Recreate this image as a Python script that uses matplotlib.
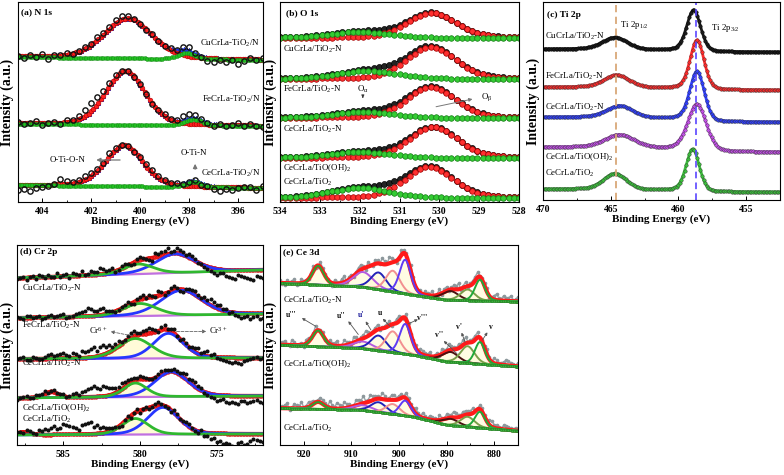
import numpy as np
import matplotlib.pyplot as plt
from matplotlib.ticker import MultipleLocator

plt.rcParams['font.family'] = ['Liberation Serif', 'DejaVu Serif']
plt.rcParams['font.weight'] = 'bold'
plt.rcParams['axes.labelweight'] = 'bold'
plt.rcParams['mathtext.default'] = 'regular'
plt.rcParams['axes.linewidth'] = 0.8

# ---------------- (a) N 1s ----------------
n1s_names = ['CuCrLa-TiO$_2$/N', 'FeCrLa-TiO$_2$/N', 'CeCrLa-TiO$_2$/N']
n1s_bg_405 = [145, 78, 17]
n1s_bg_395 = [142, 76, 14]
n1s_main_pos = [400.5, 400.6, 400.65]
n1s_main_h = [40, 54, 41]
n1s_main_w = [2.3, 1.9, 1.8]
n1s_sub_pos = [398.1, 397.8, 397.8]
n1s_sub_h = [6, 6, 5]
n1s_resid = [
    [0, -2, 1, -1, 2, -3, 1, 0, 2, -1, 1, 2, 1, 3, 2, 2, 3, 4, 2, 1,
     0, -1, 1, 0, -1, 1, 0, 2, 3, 1, -1, -3, -4, -2, -3, -1, -5, -2, 1, -1, 2],
    [1, -1, 0, 2, -2, 0, 1, -1, 2, 1, 3, 6, 8, 7, 5, 3, 2, 1, 0, -1,
     1, 0, -1, 1, 2, 0, 1, 4, 5, 3, 1, 0, -2, 1, -1, 0, 2, -1, 1, 0, -1],
    [-5, -4, -6, -3, -2, -1, 0, 5, 3, 1, 2, 4, 3, 2, 1, 3, 2, 1, 0, -1,
     1, 2, 3, 2, 1, 0, 1, -1, 0, 1, -2, -1, -3, -4, -2, -3, -1, 0, 1, -2, 2],
]

# ---------------- (b) O 1s ----------------
o1s_names = ['CuCrLa/TiO$_2$-N', 'FeCrLa/TiO$_2$-N', 'CeCrLa/TiO$_2$-N',
             'CeCrLa/TiO(OH)$_2$', 'CeCrLa/TiO$_2$']
o1s_base = [164, 123, 84, 44, 4]
o1s_beta_pos = [530.2, 530.2, 530.2, 530.15, 530.25]
o1s_beta_h = [25, 32, 31, 31, 31]
o1s_alpha_pos = [532.0, 531.8, 531.9, 532.0, 532.0]
o1s_alpha_h = [6, 8, 6, 6, 10]

# ---------------- (c) Ti 2p ----------------
ti_names = o1s_names
ti_bg_470 = [151, 113, 83, 53, 11]
ti_bg_452 = [148, 110, 78, 48, 8]
ti_p32_pos = [458.87, 458.62, 458.62, 458.62, 458.94]
ti_p32_h = [41, 49, 49, 46, 42]
ti_p32_w = [1.2, 1.2, 1.25, 1.6, 1.15]
ti_p12_pos = [464.67, 464.54, 464.3, 464.3, 464.67]
ti_p12_h = [12, 12.5, 12, 13, 16]
ti_p12_w = [2.2, 2.2, 2.3, 2.6, 2.0]
ti_colors = ['#1c1c1c', '#ff2a2a', '#2f3fff', '#c24fe6', '#3bbf3b']

# ---------------- (d) Cr 2p ----------------
cr_names = o1s_names
cr_bg_588 = [167, 127, 86, 47, 10]
cr_bg_572 = [175, 131, 87, 49, 11]
cr3_pos = [577.7, 577.3, 578.15, 577.95, 578.5]
cr3_h = [19, 25, 25, 25, 27]
cr3_w = [3.0, 3.2, 2.3, 2.6, 2.4]
cr6_pos = [580.1, 580.0, 580.3, 580.3, 580.3]
cr6_h = [10, 12.5, 20, 14, 16]
cr6_w = [2.3, 2.6, 2.6, 1.8, 2.0]
cr_extra_pos = [585.8, 585.8, 585.8, 585.8, 587.6]
cr_extra_h = [0, 0, 0, 6, 3]
# raw points at 588, 587.6 ... 572
cr_resid = [
    [-1, 1, 0, -2, 1, 2, 0, -1, 2, 3, 1, 0, 4, 2, 5, 3, -1, 2, 1, -2,
     3, 0, -3, 2, 4, 1, 5, 3, 4, 2, 0, -3, -5, -4, -6, -8, -5, -7, -9, -6, -8],
    [1, -1, 2, 0, -2, 1, 0, 2, -1, 1, 3, 5, 7, 4, 6, 2, -1, 1, 3, -2,
     2, 0, 1, 4, -2, 3, 1, -3, 2, 4, 1, 3, 5, 4, 2, 0, -3, -4, -6, -3, -5],
    [0, 2, -1, 1, 0, 3, 2, 4, 3, 5, 2, 6, 8, 5, 9, 7, 4, 2, 3, 5,
     1, 4, 3, -1, 4, 2, 0, 3, 1, 4, 2, 5, 3, -2, -4, -6, -5, -3, -1, 1, 0],
    [-2, 1, 0, 2, 1, -1, 2, 1, 0, 3, 2, 6, 9, 8, 10, 7, 5, 6, 4, 2,
     3, 1, 0, 2, 3, 1, 2, 4, 3, 5, 2, -2, -4, -5, -7, -6, -8, -5, -6, -4, -7],
    [1, -1, 2, 0, 3, 5, 8, 6, 9, 7, 4, 10, 12, 8, 6, 3, 1, -2, 2, 0,
     -3, 1, -1, 3, 0, -2, 2, 1, 3, -1, 2, -3, -5, -8, -10, -12, -9, -11, -7, -6, -8],
]
# raw points in between, at 587.8, 587.4 ... 572.2
cr_resid_mid = [
    [0, -2, 1, 2, -1, 0, 3, 1, -2, 2, 4, 1, 3, 6, 2, 4, 0, 3, -1, 2,
     1, -2, 4, 3, 6, 2, 4, 1, 3, -1, -2, -4, -6, -3, -7, -9, -6, -8, -10, -7],
    [0, 2, -1, 1, -1, 2, 1, 3, 0, 2, 4, 8, 5, 6, 3, 1, 0, 2, -1, 1,
     3, 2, -1, 2, 0, 4, -2, 1, 3, 2, 4, 6, 3, 1, -1, -2, -5, -3, -4, -6],
    [1, -1, 2, 0, 2, 4, 3, 5, 2, 4, 7, 6, 10, 8, 6, 3, 5, 1, 4, 2,
     3, 5, 2, 3, 1, 4, -1, 2, 3, 6, 4, 2, -1, -3, -5, -4, -6, -2, 0, -1],
    [0, 2, -1, 1, 3, 0, 1, 2, 1, 4, 5, 8, 11, 7, 9, 6, 4, 5, 3, 1,
     2, 0, 1, 3, 2, 3, 1, 5, 4, 3, -1, -3, -6, -4, -8, -7, -5, -7, -5, -6],
    [0, 2, 1, 4, 6, 7, 5, 10, 8, 6, 9, 11, 7, 5, 4, 2, -1, 1, -2, 2,
     0, -2, 2, 1, -1, 3, 0, 2, 1, -2, -4, -6, -9, -11, -10, -13, -8, -10, -5, -7],
]

# ---------------- (e) Ce 3d ----------------
ce_names = ['CeCrLa/TiO$_2$-N', 'CeCrLa/TiO(OH)$_2$', 'CeCrLa/TiO$_2$']
ce_peak_labels = ["u'''", "u''", "u'", "u", "v'''", "v''", "v'", "v"]
ce_peak_pos = [917.0, 907.5, 904.3, 901.3, 898.7, 889.2, 885.6, 883.0]
ce_peak_w = [2.8, 5.0, 3.8, 3.5, 2.8, 4.0, 3.5, 2.5]
ce_peak_h = [
    [19, 15, 17, 21, 34, 9, 11, 21],
    [16, 7, 15, 21, 30, 10, 17, 22],
    [7, 5, 10, 10, 15, 6.5, 10, 16],
]
ce_peak_colors = ['#2ea02e', '#b45be0', '#2323b8', '#f29090', '#5e3cf5',
                  '#4a1010', '#7a9e4a', '#1fa83a']
ce_bg_E = [875, 890, 897, 908, 925]
ce_bg_y = [
    [143.3, 145, 150, 158.3, 161.7],
    [78.3, 83.3, 90, 96.7, 100],
    [14, 20, 28.3, 35, 36.7],
]
# raw points at 925, 924 ... 875
ce_resid = [
    [3, -2, 1, 4, -1, 2, 0, 5, -2, 3, 1, -3, 2, 4, -1, 3, 2, 5, -2, 1,
     4, 0, 3, 6, 2, -1, 3, -2, 4, 1, -3, 2, 5, 1, -2, 4, 2, 3, -1, 5,
     2, 4, 1, 3, -2, 4, 2, 5, 3, 1, 4],
    [2, 4, -1, 3, 1, -2, 4, 2, 0, 3, -1, 2, 5, 1, 3, -2, 4, 2, 6, 1,
     3, -1, 2, 4, 1, 5, -2, 3, 2, 1, 4, 2, -1, 3, 5, 2, 4, 1, 3, 6,
     2, 4, -1, 3, 2, 5, 1, 3, 4, 2, 3],
    [1, 3, -2, 4, 2, 1, 5, 3, 2, 4, 1, 3, 6, 2, 4, 1, 5, 3, 2, 6,
     3, 1, 4, 2, 5, 3, 1, 4, 2, 3, 5, 1, 3, -1, 2, 4, 3, 5, 2, 4,
     3, 1, 4, 2, 5, 3, 2, 4, 3, 1, 2],
]
# raw points at 924.5, 923.5 ... 875.5
ce_resid_mid = [
    [-1, 3, 2, -2, 4, 1, 3, -1, 5, 2, -2, 4, 1, 6, 3, -1, 4, 2, 5, -1,
     3, 6, 1, 4, -2, 5, 2, 7, -1, 3, 4, 1, -2, 5, 3, -1, 4, 6, 2, -1,
     3, 5, 2, 4, 1, 6, 2, 3, 5, 2],
    [3, 1, 5, -1, 2, 4, 1, 6, 2, -1, 4, 3, 0, 5, 2, 6, -1, 3, 4, 2,
     5, 1, 3, -2, 4, 2, 6, 1, 3, 5, 2, 4, 1, -1, 3, 6, 2, 4, 5, 1,
     3, 5, 2, 6, 1, 4, 2, 5, 3, 1],
    [2, 5, 1, 3, 6, 2, 4, 1, 5, 3, 7, 2, 4, 6, 3, 1, 5, 7, 2, 4,
     3, 6, 1, 5, 2, 4, 6, 2, 5, 1, 3, 4, 2, 5, 1, 3, 6, 2, 4, 3,
     5, 1, 4, 2, 6, 3, 1, 4, 2, 3],
]


def pv(x, c, h, w, eta=0.25):
    # pseudo-Voigt line shape used for the fitted components
    g = np.exp(-4 * np.log(2) * (x - c) ** 2 / w ** 2)
    l = 1 / (1 + 4 * (x - c) ** 2 / w ** 2)
    return h * ((1 - eta) * g + eta * l)


def shirley(x, lo, hi, comp):
    # x runs from high to low binding energy
    cum = np.cumsum(comp[::-1])[::-1]
    return lo + (hi - lo) * cum / cum[0]


def merge(e1, r1, e2, r2):
    e = np.concatenate([e1, e2])
    r = np.concatenate([r1, r2])
    order = np.argsort(-e)
    return e[order], r[order]


W, H = 784, 475
fig = plt.figure(figsize=(7.84, 4.75), dpi=100)


def add_axes(l, t, r, b):
    return fig.add_axes([l / W, 1 - b / H, (r - l) / W, (b - t) / H])


def style(ax, xlim, ylim, major, minor):
    ax.set_xlim(*xlim)
    ax.set_ylim(*ylim)
    ax.set_yticks([])
    ax.xaxis.set_major_locator(MultipleLocator(major))
    ax.xaxis.set_minor_locator(MultipleLocator(minor))
    ax.tick_params(axis='x', which='both', direction='in', labelsize=7, pad=3.5)
    ax.tick_params(which='major', length=3, width=0.7)
    ax.tick_params(which='minor', length=1.8, width=0.6)
    ax.set_xlabel('Binding Energy (eV)', fontsize=8, labelpad=0.5)
    ax.set_ylabel('Intensity (a.u.)', fontsize=10, labelpad=2.5)


lab_kw = dict(fontsize=6.4, fontweight='normal', va='center')

# ---------- panel (a)
ax = add_axes(17.5, 2, 262.5, 202)
E = np.linspace(405, 395, 101)
Er = np.linspace(405, 395, 41)
for k in range(3):
    bg = n1s_bg_395[k] + (n1s_bg_405[k] - n1s_bg_395[k]) * (E - 395) / 10
    main = pv(E, n1s_main_pos[k], n1s_main_h[k], n1s_main_w[k])
    sub = pv(E, n1s_sub_pos[k], n1s_sub_h[k], 0.8)
    ax.plot(E, bg + main + sub, color='#2b3cff', lw=1.2, marker='^', ms=3.2, mew=0.4, mec='#1020c0')
    ax.plot(E, bg + main, color='#ff2020', lw=1.2, marker='o', ms=3.4, mew=0.4, mec='#b00000')
    ax.plot(E, bg + sub, color='#22c022', lw=1, marker='o', ms=2.9, mew=0.3, mec='#118011')
    bgr = n1s_bg_395[k] + (n1s_bg_405[k] - n1s_bg_395[k]) * (Er - 395) / 10
    raw = bgr + pv(Er, n1s_main_pos[k], n1s_main_h[k], n1s_main_w[k]) \
        + pv(Er, n1s_sub_pos[k], n1s_sub_h[k], 0.8) + np.array(n1s_resid[k])
    ax.plot(Er, raw, 'o', mfc='none', mec='#111111', ms=3.8, mew=1.0)
style(ax, (405, 395), (0, 200), 2, 1)
ax.text(404.85, 190, '(a) N 1s', fontsize=6.8, va='center')
for name, y in zip(n1s_names, [159, 103, 29]):
    ax.text(395.1, y, name, ha='right', **lab_kw)
ax.text(402.95, 42, 'O-Ti-O-N', ha='center', **lab_kw)
ax.annotate('', xy=(401.9, 42), xytext=(400.7, 42),
            arrowprops=dict(arrowstyle='-|>', color='#777777', lw=0.9, mutation_scale=6))
ax.text(397.8, 49, 'O-Ti-N', ha='center', **lab_kw)
ax.annotate('', xy=(397.75, 41), xytext=(397.75, 30),
            arrowprops=dict(arrowstyle='-|>', color='#777777', lw=0.9, mutation_scale=6))

# ---------- panel (b)
ax = add_axes(280, 2, 519, 202)
E = np.linspace(534, 528, 47)
for k in range(5):
    b = o1s_base[k]
    al = pv(E, o1s_alpha_pos[k], o1s_alpha_h[k], 1.8)
    be = pv(E, o1s_beta_pos[k], o1s_beta_h[k], 1.45)
    ax.plot(E, b + al + be, color='#111111', lw=0.6, marker='o', ms=4.3, mfc='#222222', mec='#000000', mew=0.5)
    ax.plot(E, b + be, color='#ff2a2a', lw=0.6, marker='o', ms=4.0, mfc='#ff3030', mec='#a00000', mew=0.5)
    ax.plot(E, b + al, color='#33cc33', lw=0.6, marker='o', ms=4.0, mfc='#33cc33', mec='#137a13', mew=0.5)
style(ax, (534, 528), (0, 200), 1, 0.5)
ax.text(533.85, 189, '(b) O 1s', fontsize=6.8, va='center')
for name, y in zip(o1s_names, [153, 113, 73, 34, 20]):
    ax.text(533.92, y, name, ha='left', **lab_kw)
ax.text(531.92, 113, r'O$_{\alpha}$', ha='center', **lab_kw)
ax.annotate('', xy=(531.92, 104), xytext=(531.92, 108),
            arrowprops=dict(arrowstyle='-|>', color='#333333', lw=0.6, mutation_scale=4))
ax.text(528.95, 105, r'O$_{\beta}$', ha='left', **lab_kw)
ax.annotate('', xy=(529.1, 103.5), xytext=(530.15, 94.7),
            arrowprops=dict(arrowstyle='-|>', color='#777777', lw=0.7, mutation_scale=5))

# ---------- panel (c)
ax = add_axes(543, 2, 780, 200)
E = np.linspace(470, 452.5, 150)
for k in range(5):
    p32 = pv(E, ti_p32_pos[k], ti_p32_h[k], ti_p32_w[k])
    p12 = pv(E, ti_p12_pos[k], ti_p12_h[k], ti_p12_w[k])
    bg = shirley(E, ti_bg_452[k], ti_bg_470[k], p32 + p12)
    ax.plot(E, bg + p32 + p12, color=ti_colors[k], lw=2.0, marker='o', ms=2.5,
            mew=0.3, mec='#333333' if k else '#000000')
ax.axvline(464.62, color='#d9a878', lw=1.3, ls=(0, (4, 2.5)))
ax.axvline(458.69, color='#5a46ff', lw=1.2, ls=(0, (4, 2.5)))
style(ax, (470, 452.5), (0, 198), 5, 2.5)
ax.text(469.7, 185, '(c) Ti 2p', fontsize=6.8, va='center')
for name, y in zip(ti_names, [164, 124, 93, 43, 27]):
    ax.text(469.85, y, name, ha='left', **lab_kw)
ax.text(464.3, 175, 'Ti 2p$_{1/2}$', ha='left', **lab_kw)
ax.text(457.6, 172, 'Ti 2p$_{3/2}$', ha='left', **lab_kw)

# ---------- panel (d)
ax = add_axes(17.3, 245, 262.7, 445)
E = np.linspace(588, 572, 161)
Er1 = np.linspace(588, 572, 41)
Er2 = np.linspace(587.8, 572.2, 40)
for k in range(5):
    bg = cr_bg_572[k] + (cr_bg_588[k] - cr_bg_572[k]) * (E - 572) / 16
    c3 = pv(E, cr3_pos[k], cr3_h[k], cr3_w[k])
    c6 = pv(E, cr6_pos[k], cr6_h[k], cr6_w[k])
    ex = pv(E, cr_extra_pos[k], cr_extra_h[k], 1.0)
    ax.plot(E, bg, color='#c070e0', lw=1.6)
    ax.fill_between(E, bg, bg + c6, color='#fffbd8', lw=0)
    ax.plot(E, bg + c3 + c6 + ex, color='#ff2020', lw=2.6, marker='o', ms=2.6, mew=0.3, mec='#c00000')
    ax.plot(E, bg + c3, color='#2636ff', lw=2.0)
    ax.plot(E, bg + c6, color='#2fb82f', lw=2.0)
    Er, res = merge(Er1, np.array(cr_resid[k]), Er2, np.array(cr_resid_mid[k]))
    bgr = cr_bg_572[k] + (cr_bg_588[k] - cr_bg_572[k]) * (Er - 572) / 16
    raw = bgr + pv(Er, cr3_pos[k], cr3_h[k], cr3_w[k]) + pv(Er, cr6_pos[k], cr6_h[k], cr6_w[k]) \
        + pv(Er, cr_extra_pos[k], cr_extra_h[k], 1.0) + res
    ax.plot(Er, raw, 'o', color='#111111', ms=1.9)
style(ax, (588, 572), (0, 200), 5, 2.5)
ax.text(587.8, 193, '(d) Cr 2p', fontsize=6.8, va='center')
for name, y in zip(cr_names, [157, 120, 82, 37, 26]):
    ax.text(587.7, y, name, ha='left', **lab_kw)
ax.text(582.75, 114, 'Cr$^{6+}$', ha='center', **lab_kw)
ax.annotate('', xy=(582.1, 114), xytext=(580.3, 108.5),
            arrowprops=dict(arrowstyle='-|>', color='#666666', lw=0.6, ls='--', mutation_scale=5))
ax.text(574.9, 114, 'Cr$^{3+}$', ha='center', **lab_kw)
ax.annotate('', xy=(575.5, 113.5), xytext=(577.8, 113.5),
            arrowprops=dict(arrowstyle='-|>', color='#666666', lw=0.6, ls='--', mutation_scale=5))

# ---------- panel (e)
ax = add_axes(280, 245, 518, 445)
E = np.linspace(925, 875, 401)
Er1 = np.linspace(925, 875, 51)
Er2 = np.linspace(924.5, 875.5, 50)
for k in range(3):
    bg = np.interp(E, ce_bg_E, ce_bg_y[k])
    Er, res = merge(Er1, np.array(ce_resid[k]), Er2, np.array(ce_resid_mid[k]))
    envr = np.interp(Er, ce_bg_E, ce_bg_y[k])
    env = bg.copy()
    comps = []
    for j in range(8):
        c = pv(E, ce_peak_pos[j], ce_peak_h[k][j], ce_peak_w[j])
        comps.append(c)
        env = env + c
        envr = envr + pv(Er, ce_peak_pos[j], ce_peak_h[k][j], ce_peak_w[j])
    ax.plot(Er, envr + res, color='#9ba6aa', lw=1.0, marker='o', ms=1.6, mfc='#8d989c', mec='#8d989c')
    for j in range(8):
        ax.fill_between(E, bg, bg + comps[j], color='#fffbd8', lw=0, alpha=0.7)
    ax.plot(E, env, color='#ff1a1a', lw=3.0)
    for j in range(8):
        ax.plot(E, bg + comps[j], color=ce_peak_colors[j], lw=1.4)
    ax.plot(E, bg, color='#3cae3c', lw=1.8, marker='o', ms=1.8, mew=0.3, mec='#1e7a1e', markevery=3)
style(ax, (925, 875), (0, 200), 10, 5)
ax.text(924.4, 193, '(e) Ce 3d', fontsize=6.8, va='center')
for name, y in zip(ce_names, [145, 81, 17]):
    ax.text(924.4, y, name, ha='left', **lab_kw)

ce_text_xy = [(922.7, 130), (912.1, 129), (907.9, 130), (904.0, 131.7),
              (895.2, 127.3), (891.6, 110), (887.4, 118.3), (880.7, 118.3)]
ce_arrow_tail = [(917.0, 117.3), (908.2, 108.3), (905.6, 112.7), (901.5, 116.7),
                 (898.6, 120), (887.4, 89.3), (885.9, 100), (882.8, 102.7)]
ce_arrow_head = [(920.9, 128.3), (911.0, 126), (907.3, 126), (903.8, 128.3),
                 (895.5, 126.7), (891.0, 106), (887.05, 115), (881.1, 115)]
ce_text_col = ['#111111', '#111111', '#1a1a9a', '#111111', '#111111', '#111111', '#111111', '#111111']
for j in range(8):
    ax.annotate('', xy=ce_arrow_head[j], xytext=ce_arrow_tail[j],
                arrowprops=dict(arrowstyle='-|>', color='#555555', lw=0.6, mutation_scale=4))
    ax.text(ce_text_xy[j][0], ce_text_xy[j][1], ce_peak_labels[j], ha='center', va='center',
            fontsize=5.5, color=ce_text_col[j])

fig.savefig('out.png', dpi=100)
